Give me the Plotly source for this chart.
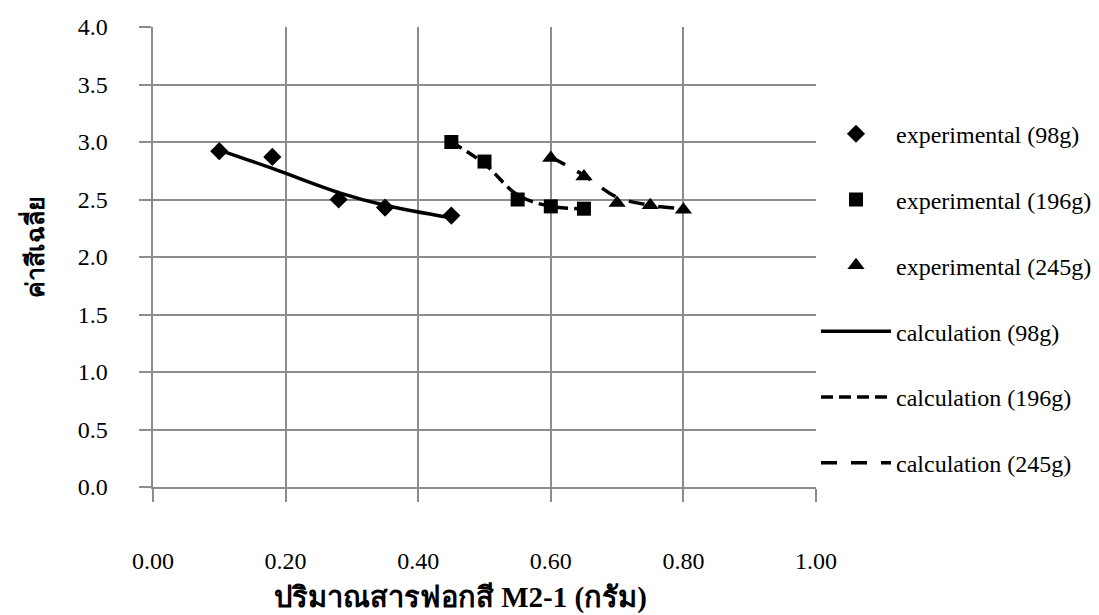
import plotly.graph_objects as go

# Data
exp98_x = [0.10, 0.18, 0.28, 0.35, 0.45]
exp98_y = [2.92, 2.87, 2.50, 2.43, 2.36]
exp196_x = [0.45, 0.50, 0.55, 0.60, 0.65]
exp196_y = [3.00, 2.83, 2.50, 2.44, 2.42]
exp245_x = [0.60, 0.65, 0.70, 0.75, 0.80]
exp245_y = [2.86, 2.70, 2.47, 2.45, 2.41]

calc98_x = [0.10, 0.18, 0.28, 0.35, 0.45]
calc98_y = [2.93, 2.77, 2.56, 2.45, 2.34]
calc196_x = [0.45, 0.50, 0.55, 0.60, 0.65]
calc196_y = [3.00, 2.81, 2.54, 2.44, 2.42]
calc245_x = [0.60, 0.65, 0.70, 0.75, 0.80]
calc245_y = [2.87, 2.71, 2.52, 2.45, 2.42]

x_ticks = [0.0, 0.2, 0.4, 0.6, 0.8, 1.0]
x_ticklabels = ["0.00", "0.20", "0.40", "0.60", "0.80", "1.00"]
y_ticks = [0.0, 0.5, 1.0, 1.5, 2.0, 2.5, 3.0, 3.5, 4.0]
y_ticklabels = ["0.0", "0.5", "1.0", "1.5", "2.0", "2.5", "3.0", "3.5", "4.0"]

x_title = "ปริมาณสารฟอกสี M2-1 (กรัม)"
y_title = "ค่าสีเฉลี่ย"

FONT = "Liberation Serif, Times New Roman, serif"
GRID = "#8c8c8c"

fig = go.Figure()

def exp_trace(x, y, name, symbol, size, grp):
    return go.Scatter(x=x, y=y, mode="markers", name=name, legendgroup=grp,
                      marker=dict(symbol=symbol, size=size, color="black",
                                  line=dict(width=0)))

def calc_trace(x, y, name, dash, grp):
    return go.Scatter(x=x, y=y, mode="lines", name=name, legendgroup=grp,
                      line=dict(color="black", width=3.5, dash=dash, shape="spline",
                                smoothing=1.0))

fig.add_trace(exp_trace(exp98_x, exp98_y, "experimental (98g)", "diamond", 14, "a"))
fig.add_trace(exp_trace(exp196_x, exp196_y, "experimental (196g)", "square", 14, "b"))
fig.add_trace(exp_trace(exp245_x, exp245_y, "experimental (245g)", "triangle-up", 15, "c"))
fig.add_trace(calc_trace(calc98_x, calc98_y, "calculation (98g)", "solid", "d"))
fig.add_trace(calc_trace(calc196_x, calc196_y, "calculation (196g)", "12px,6px", "e"))
fig.add_trace(calc_trace(calc245_x, calc245_y, "calculation (245g)", "16px,14px", "f"))

fig.update_layout(
    width=1099, height=615,
    margin=dict(l=152.5, r=283, t=26.7, b=128.3, autoexpand=False),
    paper_bgcolor="white", plot_bgcolor="white",
    font=dict(family=FONT, size=24, color="black"),
    showlegend=True,
    legend=dict(x=1.0, xanchor="left", y=0.816, yanchor="top",
                font=dict(family=FONT, size=24, color="black"),
                itemwidth=70, tracegroupgap=31.6, bgcolor="rgba(0,0,0,0)",
                borderwidth=0),
    xaxis=dict(range=[0, 1.0], tickvals=x_ticks, ticktext=x_ticklabels,
               showgrid=True, gridcolor=GRID, gridwidth=2,
               showline=True, linecolor=GRID, linewidth=2,
               ticks="outside", ticklen=13, tickwidth=2, tickcolor=GRID,
               ticklabelstandoff=38, zeroline=False,
               tickfont=dict(family=FONT, size=24, color="black")),
    yaxis=dict(range=[0, 4.0], tickvals=y_ticks, ticktext=y_ticklabels,
               showgrid=True, gridcolor=GRID, gridwidth=2,
               showline=True, linecolor=GRID, linewidth=2,
               ticks="outside", ticklen=12.5, tickwidth=2, tickcolor=GRID,
               ticklabelstandoff=26, zeroline=False,
               tickfont=dict(family=FONT, size=24, color="black")),
)

fig.add_annotation(text="<b>" + x_title + "</b>", xref="paper", yref="paper",
                   x=(460 - 152.5) / 663.5, y=-(597 - 486.7) / 460,
                   xanchor="center", yanchor="middle", showarrow=False,
                   font=dict(family=FONT, size=29, color="black"))
fig.add_annotation(text="<b>" + y_title + "</b>", xref="paper", yref="paper",
                   x=-(152.5 - 33) / 663.5, y=(486.7 - 247) / 460,
                   xanchor="center", yanchor="middle", showarrow=False, textangle=-90,
                   font=dict(family=FONT, size=25, color="black"))

fig.write_html("out.html")
